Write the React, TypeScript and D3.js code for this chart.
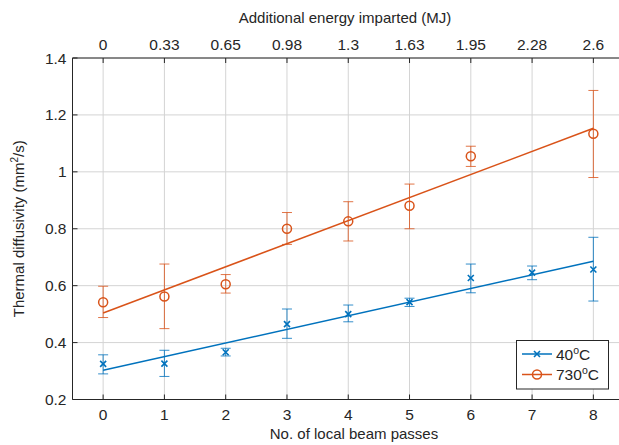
import React from "react";
import * as d3 from "d3";

const passes = [0, 1, 2, 3, 4, 5, 6, 7, 8];
const energyLabels = ["0", "0.33", "0.65", "0.98", "1.3", "1.63", "1.95", "2.28", "2.6"];
const yTicks = [0.2, 0.4, 0.6, 0.8, 1.0, 1.2, 1.4];

const blueMean = [0.325, 0.326, 0.366, 0.465, 0.5, 0.542, 0.627, 0.646, 0.657];
const blueLow = [0.29, 0.281, 0.353, 0.415, 0.473, 0.527, 0.575, 0.621, 0.546];
const blueHigh = [0.357, 0.373, 0.38, 0.518, 0.532, 0.556, 0.676, 0.669, 0.77];
const blueFit = [0.303, 0.686];

const orangeMean = [0.542, 0.562, 0.605, 0.8, 0.826, 0.881, 1.055, null, 1.134];
const orangeLow = [0.488, 0.449, 0.574, 0.745, 0.757, 0.8, 1.019, null, 0.98];
const orangeHigh = [0.598, 0.676, 0.639, 0.857, 0.895, 0.957, 1.09, null, 1.286];
const orangeFit = [0.504, 1.153];

const BLUE = "#0072BD";
const ORANGE = "#D95319";
const TXT = "#262626";

export default function App() {
  const W = 619, H = 445;
  const left = 72.5, top = 58, right = 624, bottom = 399.5;
  const x = d3.scaleLinear().domain([-0.5, 8.5]).range([left, right]);
  const y = d3.scaleLinear().domain([0.2, 1.4]).range([bottom, top]);
  const font = "'Liberation Sans', Arial, Helvetica, sans-serif";
  const line = d3.line<[number, number]>().x(d => x(d[0])).y(d => y(d[1]));

  const errBars = (mean: (number | null)[], lo: (number | null)[], hi: (number | null)[], color: string) =>
    passes.map((p, i) => {
      if (mean[i] == null) return null;
      const cx = x(p);
      return (
        <g key={i} stroke={color} strokeOpacity={0.8} strokeWidth={1}>
          <line x1={cx} x2={cx} y1={y(lo[i] as number)} y2={y(hi[i] as number)} />
          <line x1={cx - 5} x2={cx + 5} y1={y(lo[i] as number)} y2={y(lo[i] as number)} />
          <line x1={cx - 5} x2={cx + 5} y1={y(hi[i] as number)} y2={y(hi[i] as number)} />
        </g>
      );
    });

  const cross = (cx: number, cy: number, key: any) => (
    <path key={key} d={`M${cx - 3},${cy - 3}L${cx + 3},${cy + 3}M${cx - 3},${cy + 3}L${cx + 3},${cy - 3}`} stroke={BLUE} strokeWidth={1.6} fill="none" />
  );
  const circ = (cx: number, cy: number, key: any) => (
    <circle key={key} cx={cx} cy={cy} r={4.5} stroke={ORANGE} strokeWidth={1.5} fill="none" />
  );

  return (
    <svg width={W} height={H} style={{ position: "absolute", left: 0, top: 0, background: "#fff" }} fontFamily={font}>
      <defs>
        <clipPath id="clip"><rect x={left} y={top} width={right - left} height={bottom - top} /></clipPath>
      </defs>
      {/* grid */}
      <g stroke="#d4d4d4" strokeWidth={1}>
        {passes.map(p => <line key={"gx" + p} x1={x(p)} x2={x(p)} y1={top} y2={bottom} />)}
        {yTicks.map(t => <line key={"gy" + t} x1={left} x2={right} y1={y(t)} y2={y(t)} />)}
      </g>
      {/* ticks */}
      <g stroke={TXT} strokeWidth={1}>
        {passes.map(p => <line key={"tb" + p} x1={x(p)} x2={x(p)} y1={bottom} y2={bottom - 5} />)}
        {passes.map(p => <line key={"tt" + p} x1={x(p)} x2={x(p)} y1={top} y2={top + 5} />)}
        {yTicks.map(t => <line key={"ty" + t} x1={left} x2={left + 5} y1={y(t)} y2={y(t)} />)}
      </g>
      {/* fit lines */}
      <g clipPath="url(#clip)">
        <path d={line([[0, blueFit[0]], [8, blueFit[1]]]) as string} stroke={BLUE} strokeWidth={1.5} fill="none" />
        <path d={line([[0, orangeFit[0]], [8, orangeFit[1]]]) as string} stroke={ORANGE} strokeWidth={1.5} fill="none" />
      </g>
      {errBars(blueMean, blueLow, blueHigh, BLUE)}
      {errBars(orangeMean, orangeLow, orangeHigh, ORANGE)}
      {passes.map((p, i) => cross(x(p), y(blueMean[i]), "b" + i))}
      {passes.map((p, i) => orangeMean[i] == null ? null : circ(x(p), y(orangeMean[i] as number), "o" + i))}
      {/* axes lines */}
      <g stroke={TXT} strokeWidth={1} fill="none">
        <line x1={left} x2={right} y1={bottom} y2={bottom} />
        <line x1={left} x2={right} y1={top} y2={top} />
        <line x1={left} x2={left} y1={top} y2={bottom} />
      </g>
      {/* tick labels */}
      <g fill={TXT} fontSize={15.5}>
        {passes.map(p => <text key={"lb" + p} x={x(p)} y={bottom + 20} textAnchor="middle">{p}</text>)}
        {passes.map((p, i) => <text key={"lt" + p} x={x(p)} y={top - 8} textAnchor="middle">{energyLabels[i]}</text>)}
        {yTicks.map(t => <text key={"ly" + t} x={left - 6} y={y(t) + 5.5} textAnchor="end">{d3.format("~g")(t)}</text>)}
      </g>
      {/* axis titles */}
      <g fill={TXT} fontSize={15}>
        <text x={354} y={439} textAnchor="middle">No. of local beam passes</text>
        <text x={345} y={23} textAnchor="middle">Additional energy imparted (MJ)</text>
        <text transform={`translate(24,${(top + bottom) / 2}) rotate(-90)`} textAnchor="middle">
          Thermal diffusivity (mm<tspan dy={-6} fontSize={10}>2</tspan><tspan dy={6}>/s)</tspan>
        </text>
      </g>
      {/* legend */}
      <g>
        <rect x={516.5} y={340.5} width={92} height={48.5} fill="#fff" stroke={TXT} strokeWidth={1} />
        <line x1={522} x2={552} y1={354} y2={354} stroke={BLUE} strokeWidth={1.5} />
        {cross(537, 354, "lgb")}
        <line x1={522} x2={552} y1={374.5} y2={374.5} stroke={ORANGE} strokeWidth={1.5} />
        {circ(537, 374.5, "lgo")}
        <text x={556} y={359.5} fontSize={15.5} fill={TXT}>40<tspan dy={-6} fontSize={10.5}>o</tspan><tspan dy={6}>C</tspan></text>
        <text x={556} y={380} fontSize={15.5} fill={TXT}>730<tspan dy={-6} fontSize={10.5}>o</tspan><tspan dy={6}>C</tspan></text>
      </g>
    </svg>
  );
}
